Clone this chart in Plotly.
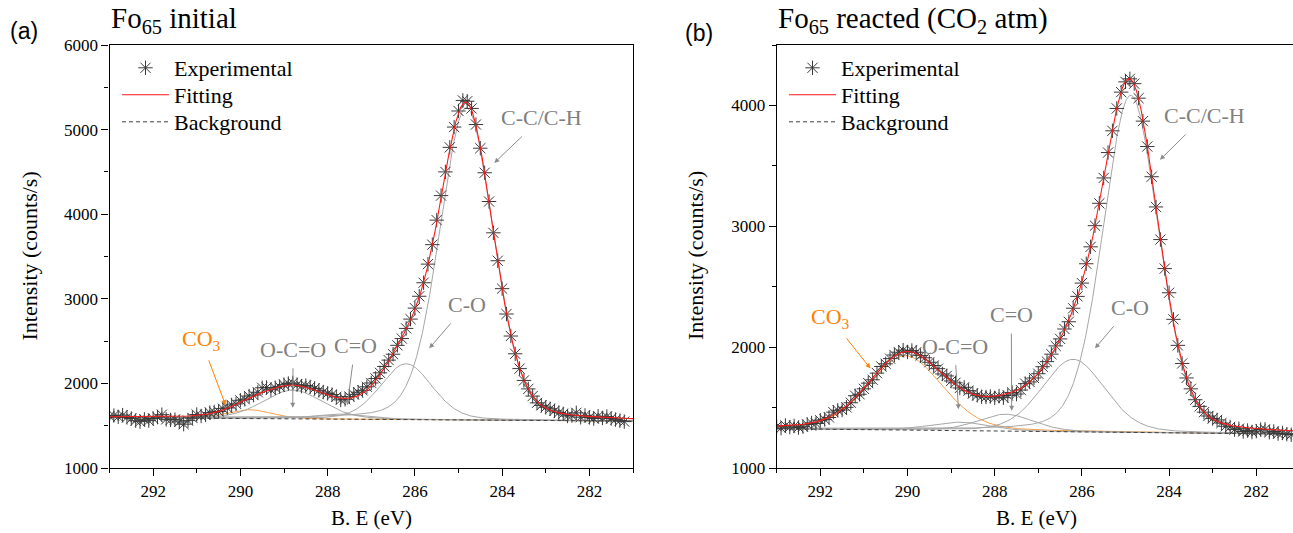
import numpy as np
import plotly.graph_objects as go

W, H = 1293, 533

# ---------------- data ----------------
be_start, be_step = 293.0, 0.1

exp_a = [1612, 1620, 1605, 1625, 1598, 1585, 1560, 1548, 1575, 1560,
         1585, 1602, 1630, 1575, 1568, 1572, 1545, 1518, 1560, 1592,
         1632, 1615, 1628, 1655, 1662, 1668, 1702, 1710, 1745, 1758,
         1800, 1812, 1850, 1862, 1895, 1948, 1952, 1925, 1948, 1962,
         1985, 1998, 2005, 1985, 1968, 1975, 1958, 1940, 1918, 1898,
         1882, 1868, 1842, 1805, 1812, 1845, 1870, 1895, 1918, 1960,
         2005, 2058, 2125, 2200, 2275, 2345, 2450, 2530, 2650, 2760,
         2890, 3030, 3190, 3410, 3640, 3930, 4220, 4500, 4790, 5030,
         5220, 5345, 5335, 5250, 5060, 4780, 4490, 4150, 3780, 3450,
         3120, 2820, 2560, 2350, 2175, 2035, 1935, 1850, 1770, 1740,
         1718, 1700, 1675, 1655, 1640, 1615, 1620, 1652, 1600, 1622,
         1598, 1585, 1612, 1592, 1608, 1585, 1572, 1560, 1548]

exp_b = [1345, 1330, 1352, 1338, 1348, 1335, 1342, 1360, 1372, 1368,
         1395, 1402, 1418, 1462, 1478, 1480, 1502, 1540, 1598, 1610,
         1655, 1702, 1730, 1785, 1840, 1862, 1905, 1935, 1958, 1975,
         1960, 1972, 1958, 1930, 1912, 1875, 1848, 1822, 1778, 1762,
         1720, 1705, 1662, 1668, 1640, 1615, 1602, 1590, 1588, 1592,
         1580, 1595, 1582, 1600, 1625, 1612, 1645, 1698, 1712, 1745,
         1780, 1838, 1880, 1942, 2010, 2068, 2150, 2210, 2322, 2420,
         2530, 2690, 2830, 3005, 3190, 3400, 3610, 3790, 3975, 4110,
         4195, 4220, 4180, 4060, 3870, 3660, 3410, 3160, 2890, 2650,
         2450, 2230, 2015, 1865, 1745, 1655, 1565, 1510, 1462, 1430,
         1410, 1398, 1372, 1345, 1340, 1318, 1325, 1302, 1310, 1298,
         1305, 1318, 1320, 1296, 1302, 1285, 1290, 1280, 1275]

peak_names = ["CO3", "O-C=O", "C=O", "C-O", "C-C/C-H"]
# panel (a) peak centres / heights above background / FWHM
center_a = [289.8, 288.8, 287.7, 286.2, 284.82]
height_a = [105, 340, 60, 660, 3690]
fwhm_a = [1.2, 1.6, 1.3, 1.4, 1.45]
bg_ends_a = [1595, 1555]          # background at 293 eV and 281 eV
# panel (b)
center_b = [290.05, 288.8, 287.75, 286.2, 284.88]
height_b = [615, 70, 140, 600, 2790]
fwhm_b = [2.0, 1.6, 1.5, 1.7, 1.5]
bg_ends_b = [1325, 1280]
bg_be = [293.0, 281.0]
gl_mix = 0.2

x_ticks = [282, 284, 286, 288, 290, 292]

# ---------------- helpers ----------------
SERIF = "Liberation Serif, Times New Roman, serif"
SANS = "Liberation Sans, Arial, sans-serif"
GRAY_TXT = "#808080"
GRAY_ARR = "#8c8c8c"
ORANGE = "#ff8000"


def pv(x, c, h, w):
    u = (x - c) / w
    return h * ((1 - gl_mix) * np.exp(-4 * np.log(2) * u ** 2) + gl_mix / (1 + 4 * u ** 2))


def bg_line(x, ends):
    return np.interp(x, bg_be[::-1], ends[::-1])


def px2x(px):
    return px / W


def px2y(py):
    return 1 - py / H


fig = go.Figure()
grid = np.linspace(293, 281, 1201)

panels = [
    dict(exp=exp_a, c=center_a, h=height_a, w=fwhm_a, bg=bg_ends_a, xa="x", ya="y",
         lg=("legend", "legend3", "legend4")),
    dict(exp=exp_b, c=center_b, h=height_b, w=fwhm_b, bg=bg_ends_b, xa="x2", ya="y2",
         lg=("legend2", "legend5", "legend6")),
]

for p in panels:
    bgg = bg_line(grid, p["bg"])
    total = bgg.copy()
    for name, c, h, w in zip(peak_names, p["c"], p["h"], p["w"]):
        comp = pv(grid, c, h, w)
        total = total + comp
        fig.add_trace(go.Scatter(
            x=grid, y=bgg + comp, mode="lines", xaxis=p["xa"], yaxis=p["ya"],
            line=dict(color="#f5a04a" if name == "CO3" else "#a6a6a6", width=1),
            showlegend=False, hoverinfo="skip", name=name))
    fig.add_trace(go.Scatter(
        x=bg_be, y=p["bg"], mode="lines", xaxis=p["xa"], yaxis=p["ya"],
        line=dict(color="#404040", width=1, dash="4px,3px"),
        name="Background", legend=p["lg"][2]))
    be = [be_start - be_step * i for i in range(len(p["exp"]))]
    fig.add_trace(go.Scatter(
        x=be, y=p["exp"], mode="markers", xaxis=p["xa"], yaxis=p["ya"],
        marker=dict(symbol="asterisk-open", size=12, color="#3a3a3a",
                    line=dict(color="#3a3a3a", width=1)),
        name="Experimental", legend=p["lg"][0]))
    fig.add_trace(go.Scatter(
        x=grid, y=total, mode="lines", xaxis=p["xa"], yaxis=p["ya"],
        line=dict(color="#ff1a1a", width=1.1),
        name="Fitting", legend=p["lg"][1]))

ydom = [px2y(468), px2y(45)]
axis_common = dict(showline=True, linecolor="black", linewidth=1.3, ticks="outside",
                   ticklen=7, tickwidth=1.3, tickcolor="black", showgrid=False,
                   zeroline=False, automargin=False,
                   tickfont=dict(family=SERIF, size=17, color="black"))


def leg(xpx, ypx):
    return dict(x=px2x(xpx), y=px2y(ypx), xanchor="left", yanchor="middle",
                bgcolor="rgba(0,0,0,0)", font=dict(family=SERIF, size=22, color="black"),
                itemwidth=47, tracegroupgap=0, borderwidth=0)


fig.update_layout(
    xaxis=dict(domain=[px2x(109.5), px2x(633)], range=[293, 281], tickvals=x_ticks,
               minor=dict(dtick=1, ticklen=4, ticks="outside", tickcolor="black"),
               mirror=True, anchor="y", **axis_common),
    yaxis=dict(domain=ydom, range=[1000, 6000], dtick=1000,
               minor=dict(dtick=500, ticklen=4, ticks="outside", tickcolor="black"),
               mirror=True, anchor="x", **axis_common),
    xaxis2=dict(domain=[px2x(776.7), 1.0], range=[293, 293 - (W - 776.7) / 43.6], tickvals=x_ticks,
                minor=dict(dtick=1, ticklen=4, ticks="outside", tickcolor="black"),
                mirror=True, anchor="y2", **axis_common),
    yaxis2=dict(domain=ydom, range=[1000, 4500], dtick=1000,
                minor=dict(dtick=500, ticklen=4, ticks="outside", tickcolor="black"),
                mirror=False, anchor="x2", **axis_common),
    width=W, height=H, margin=dict(l=0, r=0, t=0, b=0, autoexpand=False),
    paper_bgcolor="white", plot_bgcolor="white",
    font=dict(family=SERIF, color="black"),
    legend=leg(117, 68), legend3=leg(117, 95), legend4=leg(117, 122),
    legend2=leg(784, 68), legend5=leg(784, 95), legend6=leg(784, 122),
)

ann = []


def txt(text, x, y, xref, yref, size, color="black", family=SERIF, angle=0, xanchor="center",
        yanchor="middle"):
    ann.append(dict(text=text, x=x, y=y, xref=xref, yref=yref, showarrow=False,
                    font=dict(family=family, size=size, color=color), textangle=angle,
                    xanchor=xanchor, yanchor=yanchor))


def label(text, pos, head, xref, yref, color, acolor):
    # text centred at pos, arrow running from the text towards head
    ann.append(dict(text=text, x=head[0], y=head[1], ax=pos[0], ay=pos[1], xref=xref, yref=yref,
                    axref=xref, ayref=yref, showarrow=True, arrowhead=2, arrowsize=1,
                    arrowwidth=1, arrowcolor=acolor, standoff=0, borderpad=6,
                    font=dict(family=SERIF, size=22, color=color)))


# panel labels and titles
txt("(a)", px2x(8), px2y(31), "paper", "paper", 23, family=SANS, xanchor="left")
txt("(b)", px2x(683), px2y(33), "paper", "paper", 23, family=SANS, xanchor="left")
txt("Fo<sub>65</sub> initial", px2x(109), px2y(20), "paper", "paper", 29, xanchor="left")
txt("Fo<sub>65</sub> reacted (CO<sub>2</sub> atm)", px2x(776), px2y(20), "paper", "paper", 29,
    xanchor="left")
# axis titles
for xc in (28.5, 695):
    txt("Intensity (counts/s)", px2x(xc), px2y(256), "paper", "paper", 22, angle=-90)
txt("B. E (eV)", px2x(371), px2y(532), "paper", "paper", 21, yanchor="bottom")
txt("B. E (eV)", px2x(1036), px2y(532), "paper", "paper", 21, yanchor="bottom")

# peak labels panel (a)
label("C-C/C-H", (283.09, 5143), (284.18, 4606), "x", "y", GRAY_TXT, GRAY_ARR)
label("C-O", (284.8, 2935), (285.67, 2415), "x", "y", GRAY_TXT, GRAY_ARR)
label("C=O", (287.37, 2447), (287.55, 1743), "x", "y", GRAY_TXT, GRAY_ARR)
label("O-C=O", (288.79, 2403), (288.8, 1711), "x", "y", GRAY_TXT, GRAY_ARR)
label("CO<sub>3</sub>", (290.9, 2514), (290.34, 1743), "x", "y", ORANGE, ORANGE)

# peak labels panel (b)
label("C-C/C-H", (283.18, 3916), (284.21, 3550), "x2", "y2", GRAY_TXT, GRAY_ARR)
label("C-O", (284.9, 2330), (285.7, 1990), "x2", "y2", GRAY_TXT, GRAY_ARR)
label("C=O", (287.62, 2269), (287.61, 1473), "x2", "y2", GRAY_TXT, GRAY_ARR)
label("O-C=O", (288.92, 2008), (288.83, 1486), "x2", "y2", GRAY_TXT, GRAY_ARR)
label("CO<sub>3</sub>", (291.77, 2242), (290.85, 1824), "x2", "y2", ORANGE, ORANGE)

fig.update_layout(annotations=ann)
fig.write_html("out.html", config={"displayModeBar": False},
               post_script="document.body.style.margin='0px';")
